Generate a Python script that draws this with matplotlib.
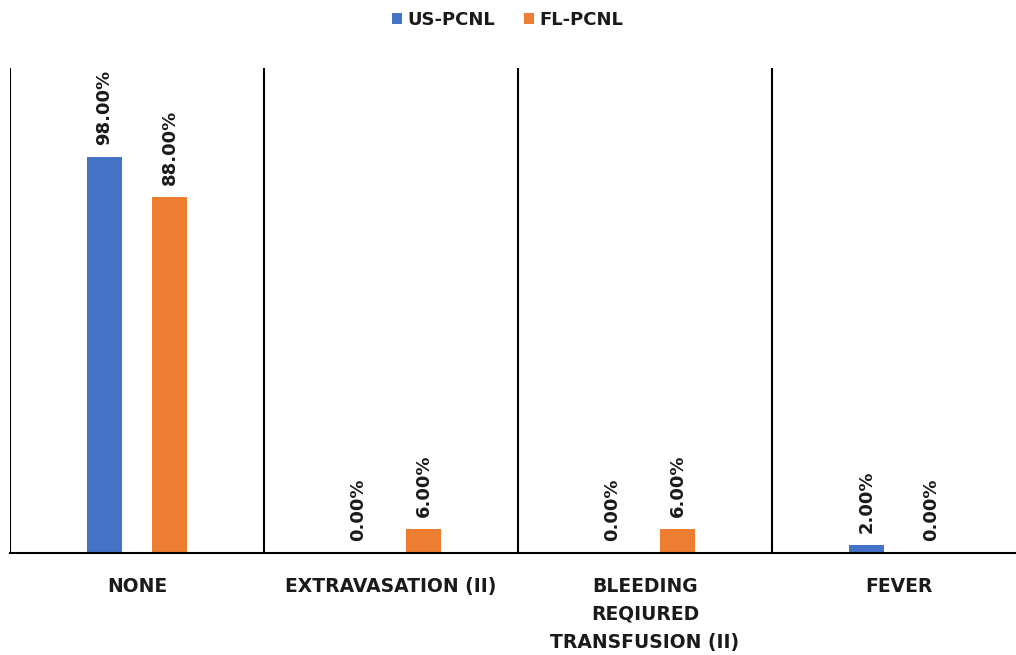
import matplotlib
matplotlib.use("Agg")
import matplotlib.pyplot as plt
import numpy as np

categories = ["NONE", "EXTRAVASATION (II)", "BLEEDING\nREQIURED\nTRANSFUSION (II)", "FEVER"]
us_pcnl = [98.0, 0.0, 0.0, 2.0]
fl_pcnl = [88.0, 6.0, 6.0, 0.0]
series_names = ["US-PCNL", "FL-PCNL"]
colors = ["#4472C4", "#ED7D31"]

plt.rcParams["font.family"] = ["DejaVu Sans"]

fig = plt.figure(figsize=(10.16, 6.55), dpi=100)
ax = fig.add_axes([10 / 1016, 102 / 655, 1016 / 1016, 485 / 655])

x = np.arange(len(categories))
width = 0.134
offset = 0.128

for vals, name, col, sign in zip([us_pcnl, fl_pcnl], series_names, colors, [-1, 1]):
    bars = ax.bar(x + sign * offset, vals, width, color=col, label=name)
    for b, v in zip(bars, vals):
        ax.annotate(f"{v:.2f}%", (b.get_x() + b.get_width() / 2, v),
                    xytext=(0, 12), textcoords="offset pixels",
                    rotation=90, ha="center", va="bottom",
                    fontsize=13, fontweight="bold", color="#1a1a1a")

# category separators
for edge in np.arange(len(categories) + 1) - 0.5:
    ax.axvline(edge, color="black", lw=1.5, zorder=0)

ax.set_xlim(-0.5, len(categories) - 0.5)
ax.set_ylim(0, 120)
ax.set_yticks([])
ax.set_xticks(x)
ax.set_xticklabels(categories, fontsize=13.5, fontweight="bold", linespacing=1.6,
                   color="#1a1a1a")
ax.tick_params(axis="x", length=0, pad=17)
for s in ["top", "right", "left"]:
    ax.spines[s].set_visible(False)
ax.spines["bottom"].set_linewidth(1.5)

fig.legend(loc="upper center", bbox_to_anchor=(0.5, 1.008), ncol=2, frameon=False,
           prop={"size": 13, "weight": "bold"}, handlelength=0.55, handleheight=0.55,
           handletextpad=0.3, columnspacing=1.6, labelcolor="#1a1a1a")

fig.savefig("out.png", dpi=100)
